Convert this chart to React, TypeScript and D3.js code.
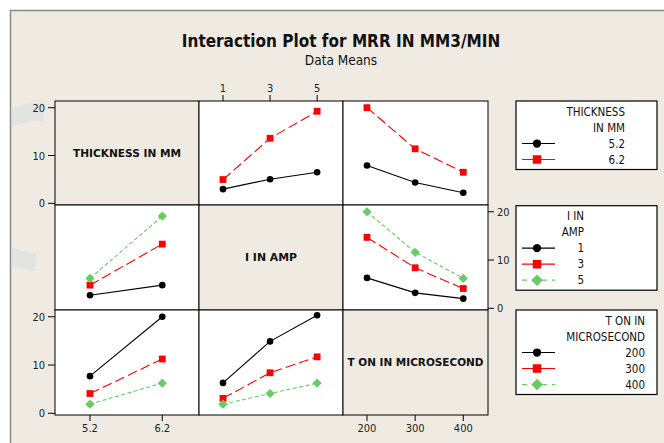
import * as d3 from 'd3';

// factor levels
const thicknessLevels = [5.2, 6.2];
const currentLevels = [1, 3, 5];
const tonLevels = [200, 300, 400];

const factorNames = ['THICKNESS IN MM', 'I IN AMP', 'T ON IN MICROSECOND'];
const legendTitles = [['THICKNESS', 'IN MM'], ['I IN', 'AMP'], ['T ON IN', 'MICROSECOND']];
const yTicks = [0, 10, 20];

// MRR means, one array per line (x factor on the column, line factor on the row)
const mrrByCurrentThick52 = [2.97, 5.04, 6.5];
const mrrByCurrentThick62 = [4.97, 13.6, 19.25];
const mrrByTonThick52 = [7.9, 4.35, 2.2];
const mrrByTonThick62 = [20.0, 11.4, 6.5];
const mrrByThickCurrent1 = [2.7, 4.8];
const mrrByThickCurrent3 = [4.8, 13.3];
const mrrByThickCurrent5 = [6.2, 19.1];
const mrrByTonCurrent1 = [6.3, 3.2, 2.0];
const mrrByTonCurrent3 = [14.7, 8.4, 4.1];
const mrrByTonCurrent5 = [20.0, 11.6, 6.2];
const mrrByThickTon200 = [7.7, 20.0];
const mrrByThickTon300 = [4.1, 11.25];
const mrrByThickTon400 = [1.9, 6.25];
const mrrByCurrentTon200 = [6.3, 14.9, 20.3];
const mrrByCurrentTon300 = [3.1, 8.4, 11.7];
const mrrByCurrentTon400 = [1.9, 4.1, 6.25];

const factorLevels = [thicknessLevels, currentLevels, tonLevels];
// cells[row][col]
const cells: (number[][] | null)[][] = [
  [null, [mrrByCurrentThick52, mrrByCurrentThick62], [mrrByTonThick52, mrrByTonThick62]],
  [[mrrByThickCurrent1, mrrByThickCurrent3, mrrByThickCurrent5], null, [mrrByTonCurrent1, mrrByTonCurrent3, mrrByTonCurrent5]],
  [[mrrByThickTon200, mrrByThickTon300, mrrByThickTon400], [mrrByCurrentTon200, mrrByCurrentTon300, mrrByCurrentTon400], null],
];

const colX = [55, 199, 343, 488];
const rowY = [101, 205, 310, 415];
const xDomains = [[4.716, 6.708], [-0.02, 6.1], [150.2, 451.3]];

const BEIGE = '#EFEBE2';
const FONT = '"DejaVu Sans Condensed", "DejaVu Sans", sans-serif';
const styles = [
  { color: '#000000', dash: null, legendDash: null },
  { color: '#FF0000', dash: '10,4', legendDash: null },
  { color: '#66CC66', dash: '4,2.5', legendDash: '5,5' },
];
const legendRight = [625, 584, 645];
const diagLabelWidth = [108, 52, 136];

const xScales = xDomains.map((d, i) => d3.scaleLinear().domain(d).range([colX[i], colX[i + 1]]));
const yScales = [0, 1, 2].map(i => d3.scaleLinear().domain([-0.35, 21.4]).range([rowY[i + 1], rowY[i]]));

const Marker = ({ k, x, y, big = false }: { k: number; x: number; y: number; big?: boolean }) => {
  const s = big ? 1.25 : 1;
  if (k === 0) return <circle cx={x} cy={y} r={3.3 * s} fill="#000" />;
  if (k === 1) {
    const h = 3.4 * s;
    return <rect x={x - h} y={y - h} width={2 * h} height={2 * h} fill="#FF0000" />;
  }
  const h = 4.6 * s;
  return <path d={`M${x},${y - h}L${x + h},${y}L${x},${y + h}L${x - h},${y}Z`} fill="#66CC66" />;
};

export default function App() {
  const line = d3.line<[number, number]>().x(d => d[0]).y(d => d[1]);

  return (
    <svg width={664} height={443} style={{ position: 'absolute', left: 0, top: 0 }} fontFamily={FONT}>
      <defs>
        <clipPath id="frame-clip">
          <rect x={11} y={11} width={700} height={500} />
        </clipPath>
      </defs>
      <rect width={664} height={443} fill="#fff" />
      <rect x={10.5} y={10.5} width={700} height={500} fill={BEIGE} stroke="#8a8a8a" strokeWidth={1.5} />
      {/* faint watermark */}
      <g clipPath="url(#frame-clip)">
        <path d="M44,112 A75,75 0 0 0 36,262" fill="none" stroke="#cdd9e1" strokeWidth={18} opacity={0.4} />
      </g>

      <text x={341} y={47} textAnchor="middle" fontSize={17} fontWeight="bold" fill="#111">
        Interaction Plot for MRR IN MM3/MIN
      </text>
      <text x={341} y={65} textAnchor="middle" fontSize={13.5} fill="#111">Data Means</text>

      {[0, 1, 2].map(r =>
        [0, 1, 2].map(c => {
          const x0 = colX[c], x1 = colX[c + 1], y0 = rowY[r], y1 = rowY[r + 1];
          const data = cells[r][c];
          return (
            <g key={`${r}-${c}`}>
              <rect x={x0} y={y0} width={x1 - x0} height={y1 - y0} fill={data ? '#fff' : BEIGE} stroke="#000" strokeWidth={1} />
              {!data && (
                <text x={(x0 + x1) / 2} y={(y0 + y1) / 2 + 3.5} textAnchor="middle" fontSize={10} fontWeight="bold"
                  textLength={diagLabelWidth[r]} lengthAdjust="spacingAndGlyphs"
                  fill="#111" fontFamily='"DejaVu Sans", sans-serif'>
                  {factorNames[r]}
                </text>
              )}
              {data && data.map((vals, k) => {
                const pts = vals.map((v, i) => [xScales[c](factorLevels[c][i]), yScales[r](v)] as [number, number]);
                return (
                  <g key={k}>
                    <path d={line(pts) || ''} fill="none" stroke={styles[k].color} strokeWidth={1.1}
                      strokeDasharray={styles[k].dash || undefined} />
                    {pts.map((p, i) => <Marker key={i} k={k} x={p[0]} y={p[1]} />)}
                  </g>
                );
              })}
            </g>
          );
        })
      )}

      {/* left y axes (rows 0, 2) */}
      {[0, 2].map(r => (
        <g key={`yl${r}`}>
          {yTicks.map(t => (
            <g key={t}>
              <line x1={48} x2={colX[0]} y1={yScales[r](t)} y2={yScales[r](t)} stroke="#000" />
              <text x={45} y={yScales[r](t) + 4} textAnchor="end" fontSize={11} fill="#222">{t}</text>
            </g>
          ))}
        </g>
      ))}
      {/* right y axis (row 1) */}
      {yTicks.map(t => (
        <g key={`yr${t}`}>
          <line x1={colX[3]} x2={494} y1={yScales[1](t)} y2={yScales[1](t)} stroke="#000" />
          <text x={497} y={yScales[1](t) + 4} fontSize={11} fill="#222">{t}</text>
        </g>
      ))}
      {/* top x axis (column 1) */}
      {currentLevels.map(v => (
        <g key={`xt${v}`}>
          <line x1={xScales[1](v)} x2={xScales[1](v)} y1={95} y2={rowY[0]} stroke="#000" />
          <text x={xScales[1](v)} y={92} textAnchor="middle" fontSize={11} fill="#222">{v}</text>
        </g>
      ))}
      {/* bottom x axes (columns 0, 2) */}
      {[0, 2].map(c => (
        <g key={`xb${c}`}>
          {factorLevels[c].map(v => (
            <g key={v}>
              <line x1={xScales[c](v)} x2={xScales[c](v)} y1={rowY[3]} y2={421} stroke="#000" />
              <text x={xScales[c](v)} y={432} textAnchor="middle" fontSize={11} fill="#222">{v}</text>
            </g>
          ))}
        </g>
      ))}

      {/* legends */}
      {[0, 1, 2].map(r => {
        const top = rowY[r] + (r === 1 ? 0.7 : 0);
        const title = legendTitles[r];
        const levels = factorLevels[r];
        const h = 10.5 + (title.length - 1 + levels.length) * 16 + 10;
        return (
          <g key={`lg${r}`}>
            <rect x={516} y={top} width={141} height={h} fill="#fff" stroke="#000" strokeWidth={1.2} />
            {title.map((t, i) => (
              <text key={t} x={legendRight[r]} y={top + 10.5 + i * 16 + 4} textAnchor="end" fontSize={11.5} fill="#111">{t}</text>
            ))}
            {levels.map((lv, k) => {
              const cy = top + 10.5 + (title.length + k) * 16;
              return (
                <g key={lv}>
                  <line x1={522} x2={555} y1={cy} y2={cy} stroke={styles[k].color} strokeWidth={1.2}
                    strokeDasharray={styles[k].legendDash || undefined} />
                  <Marker k={k} x={537} y={cy} big />
                  <text x={legendRight[r]} y={cy + 4} textAnchor="end" fontSize={11.5} fill="#111">{lv}</text>
                </g>
              );
            })}
          </g>
        );
      })}
    </svg>
  );
}
